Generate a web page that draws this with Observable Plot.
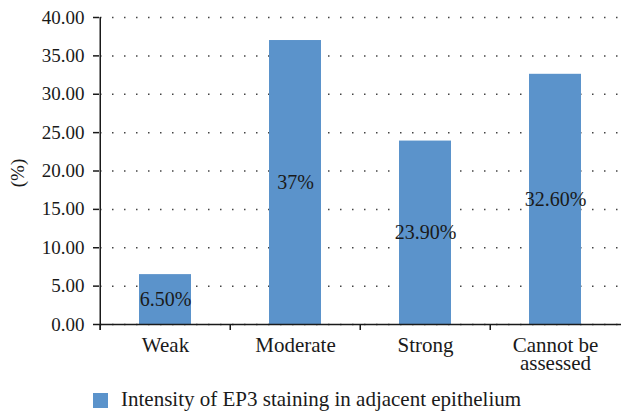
<!DOCTYPE html>
<html>
<head>
<meta charset="utf-8">
<script src="https://cdn.jsdelivr.net/npm/d3@7"></script>
<script src="https://cdn.jsdelivr.net/npm/@observablehq/plot@0.6"></script>
<style>
  body { margin: 0; background: #fff; font-family: "Liberation Serif", "Times New Roman", "DejaVu Serif", serif; }
  #chart svg { display: block; }
  .legend { position: relative; height: 34px; font-size: 21px; color: #1a1a1a; }
  .legend .sw { position: absolute; left: 93px; top: 13px; width: 15px; height: 15px; background: #5b93cb; }
  .legend .lb { position: absolute; left: 121px; top: 7px; white-space: nowrap; }
</style>
</head>
<body>
<div id="chart"></div>
<div class="legend"><span class="sw"></span><span class="lb">Intensity of EP3 staining in adjacent epithelium</span></div>
<script>
const categories = ["Weak", "Moderate", "Strong", "Cannot be\nassessed"];
const values = [6.5, 37, 23.9, 32.6];
const valueLabels = ["6.50%", "37%", "23.90%", "32.60%"];
const yTicks = [0, 5, 10, 15, 20, 25, 30, 35, 40];

const data = categories.map((c, i) => ({category: c, value: values[i], label: valueLabels[i]}));
const blue = "#5b93cb";
const ink = "#1a1a1a";
const serif = "'Liberation Serif', 'Times New Roman', 'DejaVu Serif', serif";

const chart = Plot.plot({
  width: 621,
  height: 380,
  marginTop: 17,
  marginBottom: 56,
  marginLeft: 99,
  marginRight: 0,
  style: {fontFamily: serif, fontSize: "19px", color: ink, background: "#fff"},
  x: {type: "band", domain: categories, paddingInner: 0.6, paddingOuter: 0.3, label: null},
  y: {domain: [0, 40], label: null},
  marks: [
    Plot.gridY(yTicks, {stroke: "#444", strokeOpacity: 1, strokeWidth: 1.5, strokeDasharray: "1.5,10.5", strokeDashoffset: 11}),
    Plot.barY(data, {x: "category", y: "value", fill: blue}),
    Plot.text(data, {x: "category", y: d => d.value / 2, text: "label", fill: ink, fontSize: 20, fontFamily: serif}),
    Plot.axisY(yTicks, {tickFormat: d3.format(".2f"), tickSize: 6, tickPadding: 9, stroke: ink, strokeWidth: 1.5, fill: ink, fontSize: 19, fontFamily: serif, label: null}),
    Plot.text(["(%)"], {frameAnchor: "left", textAnchor: "middle", rotate: -90, dx: -82, dy: 2, fill: ink, fontSize: 19, fontFamily: serif}),
    Plot.ruleX([categories[0]], {dx: -65.25, y1: 40, y2: -0.78, stroke: ink, strokeWidth: 1.5}),
    Plot.ruleY([0], {stroke: ink, strokeWidth: 1.5}),
    Plot.axisX({tickSize: 6, text: null, dx: -65.25, stroke: ink, strokeWidth: 1.5, label: null}),
    Plot.axisX({tickSize: 0, tickPadding: 15, fill: ink, fontSize: 21, fontFamily: serif, lineHeight: 0.86, label: null})
  ]
});
document.getElementById("chart").appendChild(chart);
</script>
</body>
</html>
